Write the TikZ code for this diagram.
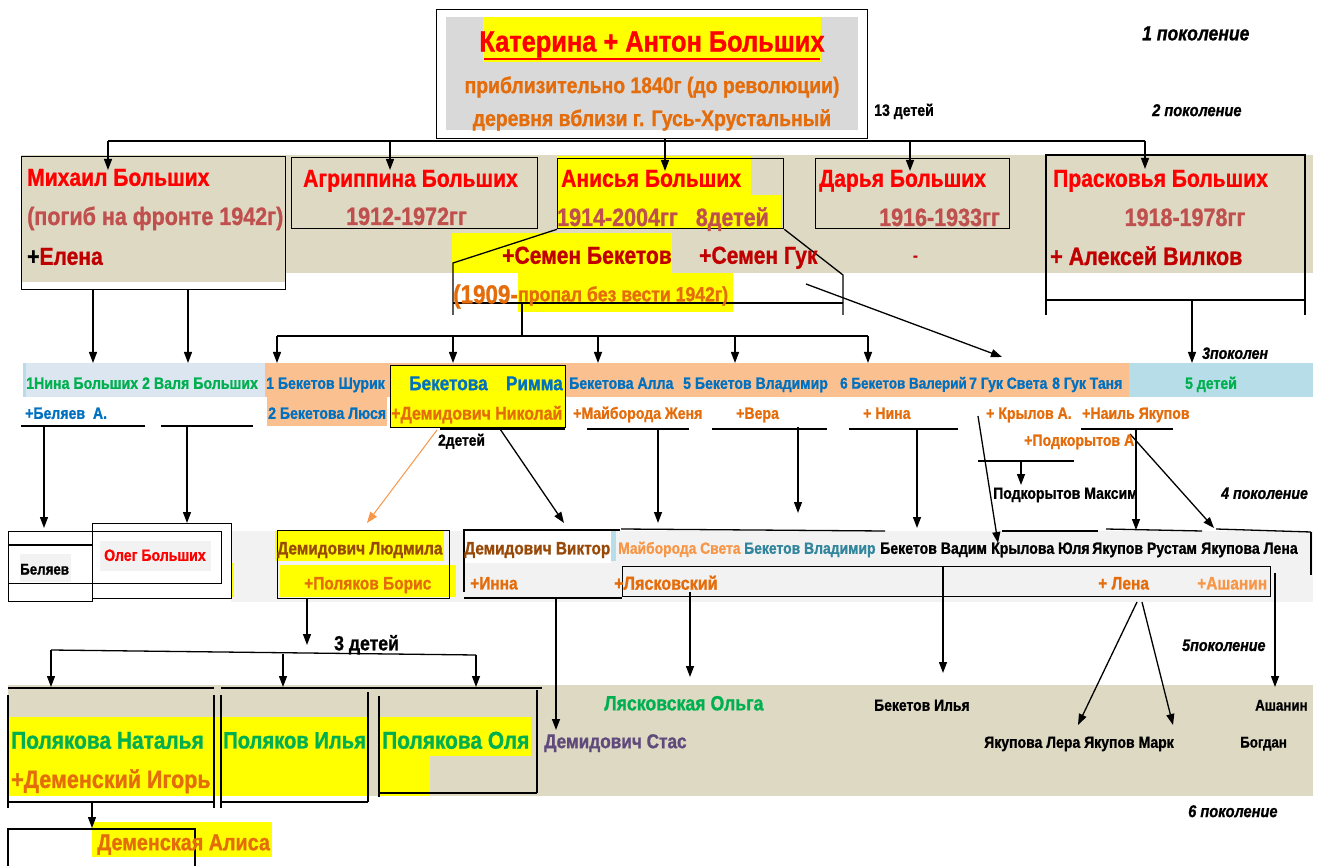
\documentclass[tikz,border=0pt]{standalone}
\usepackage{fontspec}
\setmainfont{Liberation Sans}[FakeStretch=0.86,BoldFeatures={FakeBold=1},BoldItalicFeatures={FakeBold=1}]
\usetikzlibrary{arrows.meta}
\definecolor{cred}{HTML}{FF0000}
\definecolor{dred}{HTML}{C00000}
\definecolor{rosy}{HTML}{C0504D}
\definecolor{org}{HTML}{E46C0A}
\definecolor{lorg}{HTML}{F79646}
\definecolor{brn}{HTML}{984807}
\definecolor{cblue}{HTML}{0070C0}
\definecolor{cgreen}{HTML}{00B050}
\definecolor{teal2}{HTML}{31859C}
\definecolor{purp}{HTML}{604A7B}
\definecolor{beige}{HTML}{DDD9C3}
\definecolor{peach}{HTML}{FAC090}
\definecolor{pblue}{HTML}{DCE6F1}
\definecolor{lblue}{HTML}{B7DEE8}
\definecolor{gry}{HTML}{D9D9D9}
\definecolor{lgry}{HTML}{F2F2F2}
\definecolor{yel}{HTML}{FFFF00}
\newcommand\tx[6][base west]{\node[inner sep=0pt,anchor=#1,text=#4,font={\fontsize{#3pt}{#3pt}\selectfont\bfseries}] (#2) at ([yshift=-0.358*#3pt]#5) {#6};}
\begin{document}
\begin{tikzpicture}[x=1pt,y=-1pt,
 ln/.style={line width=1.3pt},
 arr/.style={line width=1.3pt,-{Triangle[length=11pt,width=8pt]}},
 bx/.style={draw,line width=1.3pt,inner sep=0pt,anchor=north west}]
\useasboundingbox (0,0) rectangle (1325,866);
\fill[white] (0,0) rectangle (1325,866);
% ---------- backgrounds
\fill[gry] (446,17) rectangle (858,130);
\fill[yel] (483,17) rectangle (821,62);
\fill[beige] (21,155) rectangle (1313,273);
\fill[beige] (21,273) rectangle (285,282);
\fill[yel] (557,156) rectangle (751,195);
\fill[yel] (557,195) rectangle (781,228);
\fill[yel] (452,233) rectangle (672,273);
\fill[yel] (518,273) rectangle (733,312);
\fill[pblue] (23,363) rectangle (265,397);
\fill[lblue] (23,363) rectangle (26,397);
\fill[peach] (265,363) rectangle (1129,397);
\fill[peach] (267,397) rectangle (387,426);
\fill[lblue] (1129,363) rectangle (1313,397);
\fill[yel] (390,365) rectangle (565,427);
\fill[lgry] (231,531) rectangle (1313,602);
\fill[white] (464,531) rectangle (611,563);
\fill[lgry] (20,554) rectangle (71,582);
\fill[lgry] (100,541) rectangle (211,571);
\fill[yel] (231,563) rectangle (234,597);
\fill[yel] (275,531) rectangle (444,561);
\fill[yel] (280,565) rectangle (456,597);
\fill[lblue] (611,531) rectangle (616,561);
\fill[beige] (8,685) rectangle (1313,796);
\fill[yel] (8,717) rectangle (368,796);
\fill[yel] (379,717) rectangle (531,756);
\fill[yel] (379,756) rectangle (430,796);
\fill[yel] (92,822) rectangle (272,857);
% ---------- boxes
\node[bx,minimum width=431,minimum height=129] (root) at (436,9) {};
\node[bx,minimum width=264,minimum height=133] (mixB) at (21,156) {};
\node[bx,minimum width=246,minimum height=71] (agrB) at (291,157) {};
\node[bx,minimum width=226,minimum height=70] (aniB) at (557,158) {};
\node[bx,minimum width=194,minimum height=70] (darB) at (815,158) {};
\node[bx,minimum width=175,minimum height=62] (rimB) at (390,365) {};
\node[bx,minimum width=84,minimum height=70] (belB1) at (8,531) {};
\node[bx,minimum width=213,minimum height=52] (belB2) at (8,531) {};
\node[bx,minimum width=139,minimum height=75] (olgB) at (92,523) {};
\node[bx,minimum width=172,minimum height=68] (ludB) at (277,530) {};
\node[bx,minimum width=648,minimum height=30] (lyaB) at (622,566) {};
% ---------- generation 1 -> 2
\coordinate (r0) at (665,138); \coordinate (r1) at (665,141);
\coordinate (bL) at (108,141); \coordinate (bR) at (1145,141);
\draw[ln] (r0) -- (r1); \draw[ln] (bL) -- (bR);
\foreach \x/\y [count=\i] in {108/170,390/170,665/171,910/171,1145/169}{
  \coordinate (gt\i) at (\x,141); \coordinate (gh\i) at (\x,\y); \draw[arr] (gt\i) -- (gh\i);}
% ---------- Anisya spouses bracket
\coordinate (s1) at (453,263); \coordinate (s2) at (453,315);
\coordinate (s3) at (843,275); \coordinate (s4) at (843,315);
\draw[ln] (aniB.south west) -- (s1) -- (s2);
\draw[ln] (aniB.south east) -- (s3) -- (s4);
\coordinate (h1) at (453,303); \coordinate (h2) at (843,303); \draw[ln] (h1) -- (h2);
\coordinate (k0) at (522,303); \coordinate (k1) at (522,336); \draw[ln] (k0) -- (k1);
\coordinate (kL) at (277,336); \coordinate (kR) at (868,336); \draw[ln] (kL) -- (kR);
\foreach \x [count=\i] in {277,453,598,735,868}{
  \coordinate (kt\i) at (\x,336); \coordinate (kc\i) at (\x,363); \draw[arr] (kt\i) -- (kc\i);}
\coordinate (gk0) at (806,284); \coordinate (gk1) at (1002,357); \draw[arr] (gk0) -- (gk1);
% Mikhail children
\foreach \x [count=\i] in {93,188}{
  \coordinate (mt\i) at (\x,289); \coordinate (mc\i) at (\x,363); \draw[arr] (mt\i) -- (mc\i);}
% Praskovya box
\coordinate (p1) at (1046,315); \coordinate (p2) at (1046,155);
\coordinate (p3) at (1305,155); \coordinate (p4) at (1305,315);
\draw[ln] (p1) -- (p2) -- (p3) -- (p4);
\coordinate (p5) at (1046,300); \coordinate (p6) at (1305,300); \draw[ln] (p5) -- (p6);
\coordinate (p7) at (1192,300); \coordinate (p8) at (1192,363); \draw[arr] (p7) -- (p8);
% ---------- row 3 underlines
\foreach \a/\b/\y [count=\i] in {21/145/426,161/253/426,440/565/429,587/689/429,712/827/429,849/958/429,1081/1173/429,978/1074/461}{
  \coordinate (uL\i) at (\a,\y); \coordinate (uR\i) at (\b,\y); \draw[ln] (uL\i) -- (uR\i);}
% row 3 -> row 4
\foreach \x/\y/\u/\v [count=\i] in {44/426/44/528,187/426/187/523,500/429/564/523,658/429/658/523,798/427/798/513,917/429/917/528,978/416/998/543,1021/461/1021/485,1136/429/1136/530,1130/434/1214/528}{
  \coordinate (vs\i) at (\x,\y); \coordinate (ve\i) at (\u,\v); \draw[arr] (vs\i) -- (ve\i);}
\coordinate (o1) at (437,430); \coordinate (o2) at (367,523);
\draw[line width=1pt,lorg,-{Triangle[length=11pt,width=8pt]}] (o1) -- (o2);
% ---------- row 4 lines
\coordinate (bl1) at (8,545); \coordinate (bl2) at (92,545); \draw[ln] (bl1) -- (bl2);
\coordinate (vk1) at (464,592); \coordinate (vk2) at (464,530); \coordinate (vk3) at (620,530);
\draw[ln] (vk1) -- (vk2) -- (vk3);
\coordinate (vk4) at (464,598); \coordinate (vk5) at (622,598); \draw[ln] (vk4) -- (vk5);
\foreach \a/\y/\b/\z [count=\i] in {621/529/885/531,1002/531/1098/531,1106/529/1202/531,1216/529/1311/532}{
  \coordinate (tl\i) at (\a,\y); \coordinate (tr\i) at (\b,\z); \draw[ln] (tl\i) -- (tr\i);}
\coordinate (rv1) at (1311,575); \draw[ln] (tr4) -- (rv1);
% row 4 -> row 5
\foreach \x/\y/\u/\v [count=\i] in {307/598/307/645,556/598/556/730,690/592/690/677,943/566/943/673,1275/573/1275/687,1137/602/1078/725,1142/602/1173/725}{
  \coordinate (ws\i) at (\x,\y); \coordinate (we\i) at (\u,\v); \draw[arr] (ws\i) -- (we\i);}
% ---------- row 5
\coordinate (q1) at (51,650); \coordinate (q2) at (476,655); \draw[ln] (q1) -- (q2);
\coordinate (q3) at (283,654);
\coordinate (qa1) at (51,687); \coordinate (qa2) at (283,687); \coordinate (qa3) at (476,687);
\draw[arr] (q1) -- (qa1); \draw[arr] (q3) -- (qa2); \draw[arr] (q2) -- (qa3);
\foreach \a/\y/\b/\z [count=\i] in {8/688/214/688,221/688/542/688,8/695/8/808,214/695/214/808,221/695/221/808,368/692/368/802,379/696/379/797,537/690/537/793,8/802/214/802,221/802/368/802,379/793/537/793}{
  \coordinate (fl\i) at (\a,\y); \coordinate (fr\i) at (\b,\z); \draw[ln] (fl\i) -- (fr\i);}
\coordinate (al0) at (92,802); \coordinate (al1) at (92,828); \draw[arr] (al0) -- (al1);
\coordinate (z1) at (8,866); \coordinate (z2) at (8,829); \coordinate (z3) at (195,829); \coordinate (z4) at (195,866);
\draw[ln] (z1) -- (z2) -- (z3) -- (z4);
% ---------- texts
\draw[cred,line width=2.5pt] (484,59) -- (820,59);
\tx[base]{t0}{29.5}{cred}{652,41}{Катерина + Антон Больших}
\tx[base]{t1}{22.5}{org}{652,85}{приблизительно 1840г (до революции)}
\tx[base]{t2}{22.5}{org}{652,118}{деревня вблизи г. Гусь-Хрустальный}
\tx{g1}{20.4}{black}{1142,33}{\itshape 1 поколение}
\tx{g2}{17}{black}{1152,110}{\itshape 2 поколение}
\tx{c13}{16.4}{black}{874,110}{13 детей}
\tx{m1}{24.5}{cred}{27,177}{Михаил Больших}
\tx{m2}{25}{rosy}{27,216}{(погиб на фронте 1942г)}
\tx{m3}{24.5}{dred}{27,256}{{\color{black}+}Елена}
\tx{ag1}{24.5}{cred}{303,178}{Агриппина Больших}
\tx{ag2}{25}{rosy}{346,216}{1912-1972гг}
\tx{an1}{24.5}{cred}{561,178}{Анисья Больших}
\tx{an2}{25}{rosy}{557,217}{1914-2004гг\ \ \ 8детей}
\tx{se1}{24.5}{dred}{502,255}{+Семен Бекетов}
\tx{se2}{24.5}{dred}{699,255}{+Семен Гук}
\tx{se3}{16}{dred}{913,255}{-}
\tx{se4}{26}{org}{453,294}{(1909-}
\tx{se5}{20.5}{org}{518,294}{пропал без вести 1942г)}
\tx{da1}{24.5}{cred}{819,178}{Дарья Больших}
\tx{da2}{25}{rosy}{879,217}{1916-1933гг}
\tx{pr1}{24.5}{cred}{1053,178}{Прасковья Больших}
\tx[base]{pr2}{25}{rosy}{1185,217}{1918-1978гг}
\tx{pr3}{25}{dred}{1050,256}{+ Алексей Вилков}
% row 3
\tx{n1}{16.5}{cgreen}{26,383}{1Нина Больших 2 Валя Больших}
\tx{sh}{16.4}{cblue}{266,383}{1 Бекетов Шурик}
\tx{ly}{16.4}{cblue}{268,413}{2 Бекетова Люся}
\tx{ri1}{20}{cblue}{409,383}{Бекетова}
\tx[base east]{ri2}{20}{cblue}{563,383}{Римма}
\tx{ni}{18.5}{org}{391,413}{+Демидович Николай}
\tx{bal1}{16.4}{cblue}{569,383}{Бекетова Алла}
\tx{bal2}{16.4}{cblue}{683,383}{5 Бекетов Владимир}
\tx{bal3}{15.6}{cblue}{840,383}{6 Бекетов Валерий}
\tx{bal4}{16.2}{cblue}{969,383}{7 Гук Света}
\tx{bal5}{16.2}{cblue}{1052,383}{8 Гук Таня}
\tx[base]{d5}{16.4}{cgreen}{1211,383}{5 детей}
\tx{g3}{16.4}{black}{1202,353}{\itshape 3поколен}
\tx{be}{16.4}{cblue}{25,413}{+Беляев\ \ А.}
\tx{mj}{16.4}{org}{573,413}{+Майборода Женя}
\tx{vera}{16.4}{org}{736,413}{+Вера}
\tx{nn}{16.4}{org}{863,413}{+ Нина}
\tx{kr}{16.4}{org}{986,413}{+ Крылов А.}
\tx{ny}{16.4}{org}{1082,413}{+Наиль Якупов}
\tx{pa}{16.4}{org}{1024,440}{+Подкорытов А}
\tx{d2}{16}{black}{438,440}{2детей}
\tx{pm}{16.3}{black}{993,493}{Подкорытов Максим}
\tx{g4}{16.5}{black}{1221,493}{\itshape 4 поколение}
% row 4
\tx{bel}{15.5}{black}{20,569}{Беляев}
\tx{ol}{16.4}{cred}{104,555}{Олег Больших}
\tx{lu}{18}{brn}{277,548}{Демидович Людмила}
\tx{bo}{18}{org}{304,583}{+Поляков Борис}
\tx{vi}{17.9}{brn}{464,548}{Демидович Виктор}
\tx{inna}{18}{org}{470,583}{+Инна}
\tx{ms}{16.1}{lorg}{618,548}{Майборода Света}
\tx{bv}{16.2}{teal2}{744,548}{Бекетов Владимир}
\tx{bva}{16.4}{black}{880,548}{Бекетов Вадим}
\tx{ky}{16.4}{black}{991,548}{Крылова Юля}
\tx{yr}{16.4}{black}{1092,548}{Якупов Рустам}
\tx{yl}{16.4}{black}{1201,548}{Якупова Лена}
\tx{lk}{18.8}{org}{614,583}{+Лясковский}
\tx{le}{18}{org}{1098,583}{+ Лена}
\tx{ash1}{18}{lorg}{1197,583}{+Ашанин}
\tx{g5}{16.6}{black}{1182,645}{\itshape 5поколение}
\tx{d3}{20.5}{black}{334,643}{3 детей}
% row 5
\tx{pn}{24.3}{cgreen}{11,740}{Полякова Наталья}
\tx{di}{25}{org}{11,779}{+Деменский Игорь}
\tx{pi}{23.5}{cgreen}{223,740}{Поляков Илья}
\tx{po}{24.3}{cgreen}{382,740}{Полякова Оля}
\tx{alisa}{23}{org}{97,842}{Деменская Алиса}
\tx{lo}{20.6}{cgreen}{604,703}{Лясковская Ольга}
\tx{ds}{20}{purp}{544,741}{Демидович Стас}
\tx{bi}{16.2}{black}{874,705}{Бекетов Илья}
\tx{yk}{16.3}{black}{984,742}{Якупова Лера Якупов Марк}
\tx{ash2}{15.5}{black}{1255,705}{Ашанин}
\tx{bg}{15.5}{black}{1240,742}{Богдан}
\tx{g6}{17}{black}{1188,811}{\itshape 6 поколение}
\end{tikzpicture}
\end{document}
